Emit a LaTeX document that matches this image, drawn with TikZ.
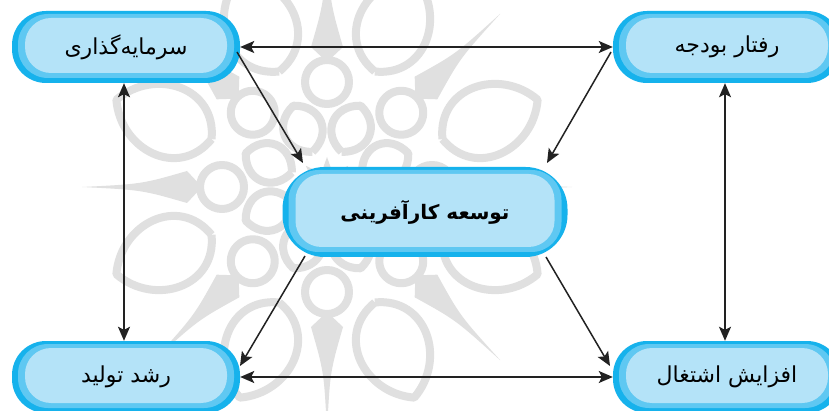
\documentclass[tikz,border=0pt]{standalone}
\usepackage{fontspec}
\newfontfamily\arabicfont[Script=Arabic]{DejaVu Sans}
\TeXXeTstate=1
\usetikzlibrary{arrows.meta}
\definecolor{outerc}{RGB}{22,178,236}
\definecolor{midc}{RGB}{95,200,242}
\definecolor{innerc}{RGB}{180,227,248}
\definecolor{arrc}{RGB}{34,34,34}
\definecolor{wmark}{RGB}{224,224,224}
\tikzset{
  capsule/.style={rounded corners=34pt, fill=outerc, inner sep=0pt,
    font=\arabicfont\fontsize{22}{24}\selectfont, text=black,
    path picture={
      \fill[midc, rounded corners=30pt] ([shift={(6pt,-3pt)}]path picture bounding box.north west) rectangle ([shift={(-6pt,5pt)}]path picture bounding box.south east);
      \fill[innerc, rounded corners=26pt] ([shift={(13pt,-7pt)}]path picture bounding box.north west) rectangle ([shift={(-13pt,10pt)}]path picture bounding box.south east);
    }},
  small/.style={capsule, minimum width=228pt, minimum height=72pt},
  big/.style={capsule, minimum width=285pt, minimum height=90pt, rounded corners=42pt, font=\arabicfont\bfseries\fontsize{20}{22}\selectfont},
  conn/.style={arrc, line width=1.5pt, -{Stealth[length=14pt,width=12pt,inset=3pt]}},
  biconn/.style={arrc, line width=1.5pt, {Stealth[length=14pt,width=12pt,inset=3pt]}-{Stealth[length=14pt,width=12pt,inset=3pt]}},
  wm/.style={draw=wmark, line width=8pt, line join=round},
  wmfill/.style={fill=wmark}
}
\begin{document}
\begin{tikzpicture}[x=1pt,y=-1pt]
\useasboundingbox (0,0) rectangle (829,411);
\clip (0,0) rectangle (829,411);
\fill[white] (0,0) rectangle (829,411);
% watermark rosette
\begin{scope}[shift={(327,187)}]
  \foreach \k in {0,...,7} {
    \begin{scope}[rotate=\k*45]
      \fill[wmfill] (245,0) .. controls (185,3) .. (140,16) -- (125,0) -- (140,-16) .. controls (185,-3) .. (245,0);
      \draw[wm] (105,0) circle[radius=22];
    \end{scope}
    \begin{scope}[rotate=\k*45+22.5]
      \draw[wm] (125,0) .. controls (140,50) and (205,45) .. (228,0) .. controls (205,-45) and (140,-50) .. (125,0);
      \draw[wm] (38,0) .. controls (48,26) and (78,26) .. (88,0) .. controls (78,-26) and (48,-26) .. (38,0);
    \end{scope}
  }
  \fill[wmfill] (0:30) \foreach \k in {1,...,15} { -- (\k*22.5:{mod(\k,2)==0 ? 30 : 15}) } -- cycle;
\end{scope}
\node[small] (tl) at (126,47) {\beginR سرمایه‌گذاری\endR};
\node[small] (tr) at (727,47) {\beginR رفتار بودجه\endR};
\node[big] (c) at (425,212) {\beginR توسعه کارآفرینی\endR};
\node[small] (bl) at (126,377) {\beginR رشد تولید\endR};
\node[small] (br) at (727,377) {\beginR افزایش اشتغال\endR};
\coordinate (tlo) at (237,52);
\coordinate (tro) at (611,52);
\coordinate (ctl) at (303,163);
\coordinate (ctr) at (547,163);
\coordinate (cbl) at (305,256);
\coordinate (cbr) at (546,257);
\coordinate (bli) at (240,366);
\coordinate (bri) at (610,366);
\draw[biconn] (tl.east) -- (tr.west);
\draw[biconn] (bl.east) -- (br.west);
\draw[biconn] ([xshift=-2pt]tl.south) -- ([xshift=-2pt]bl.north);
\draw[biconn] ([xshift=-2pt]tr.south) -- ([xshift=-2pt]br.north);
\draw[conn] (tlo) -- (ctl);
\draw[conn] (tro) -- (ctr);
\draw[conn] (cbl) -- (bli);
\draw[conn] (cbr) -- (bri);
\end{tikzpicture}
\end{document}
